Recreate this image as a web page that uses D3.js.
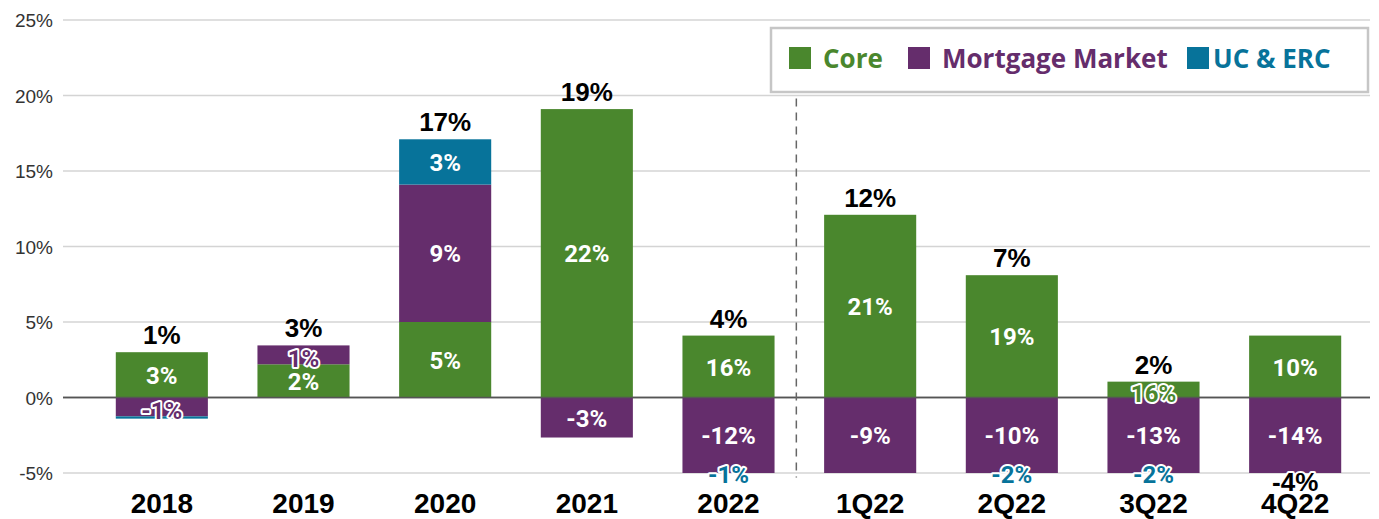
<!DOCTYPE html>
<html>
<head>
  <meta charset="utf-8">
  <title>Contribution by segment</title>
  <script src="https://d3js.org/d3.v7.min.js"></script>
  <style>
    html, body { margin: 0; padding: 0; background: #fff; }
    svg { display: block; }
    .ytick { font: 19px "Liberation Sans", Arial, sans-serif; fill: #333; }
    .xlab { font: bold 28px "Liberation Sans", Arial, sans-serif; fill: #000; }
    .total { font: bold 26px "Liberation Sans", Arial, sans-serif; fill: #000; }
    .inlab { font: bold 24px Roboto, sans-serif; fill: #fff; }
    .legtxt { font: bold 26px "Open Sans", sans-serif; }
  </style>
</head>
<body>
  <svg width="1379" height="519"></svg>
  <script>
    // categories + drawn bar segments (% as plotted)
    const categories = ["2018", "2019", "2020", "2021", "2022", "1Q22", "2Q22", "3Q22", "4Q22"];
    const coreVals = [3.0, 2.2, 5.0, 19.1, 4.1, 12.1, 8.1, 1.05, 4.1];
    const mortVals = [-1.25, 1.25, 9.1, -2.65, -12, -9, -10, -13, -14];
    const ucVals = [-0.15, 0, 3.0, 0, -1, 0, -2, -2, 0];

    // printed labels
    const coreLabels = ["3%", "2%", "5%", "22%", "16%", "21%", "19%", "16%", "10%"];
    const mortLabels = ["-1%", "1%", "9%", "-3%", "-12%", "-9%", "-10%", "-13%", "-14%"];
    const ucLabels = ["", "", "3%", "", "-1%", "", "-2%", "-2%", ""];
    const totalLabels = ["1%", "3%", "17%", "19%", "4%", "12%", "7%", "2%", "-4%"];

    const yTicks = [-5, 0, 5, 10, 15, 20, 25];
    const seriesNames = ["Core", "Mortgage Market", "UC & ERC"];
    const colors = ["#4a872d", "#652d6c", "#07739a"];

    const svg = d3.select("svg");
    const y = d3.scaleLinear().domain([-5, 25]).range([473, 20]);
    const x = d3.scaleBand().domain(categories).range([91, 1366]).paddingInner(0.35).paddingOuter(0.175);

    // grid
    svg.append("g").selectAll("line").data(yTicks).join("line")
      .attr("x1", 63).attr("x2", 1370)
      .attr("y1", d => y(d)).attr("y2", d => y(d))
      .attr("stroke", d => d === 0 ? "#555" : "#d4d4d4")
      .attr("stroke-width", 1.5);

    svg.append("g").selectAll("text").data(yTicks).join("text")
      .attr("class", "ytick")
      .attr("x", 53).attr("y", d => y(d) + 7)
      .attr("text-anchor", "end")
      .text(d => d + "%");

    // stacking: positives up from 0, negatives down from 0
    const rows = categories.map((c, i) => {
      let pos = 0, neg = 0;
      const vals = [coreVals[i], mortVals[i], ucVals[i]];
      const labs = [coreLabels[i], mortLabels[i], ucLabels[i]];
      const segs = vals.map((v, k) => {
        let y0, y1;
        if (v >= 0) { y0 = pos; y1 = pos + v; pos = y1; }
        else { y0 = neg; y1 = neg + v; neg = y1; }
        return { cat: c, k, v, y0, y1, label: labs[k] };
      });
      return { cat: c, segs, top: pos, bottom: neg, total: totalLabels[i] };
    });

    svg.append("defs").append("clipPath").attr("id", "plotclip")
      .append("rect").attr("x", 0).attr("y", 0).attr("width", 1379).attr("height", y(-5));

    const barG = svg.append("g").attr("clip-path", "url(#plotclip)");
    barG.selectAll("rect").data(rows.flatMap(r => r.segs).filter(s => s.v !== 0)).join("rect")
      .attr("x", d => x(d.cat))
      .attr("width", x.bandwidth())
      .attr("y", d => y(Math.max(d.y0, d.y1)))
      .attr("height", d => Math.abs(y(d.y0) - y(d.y1)))
      .attr("fill", d => colors[d.k]);

    // zero line on top of bars
    svg.append("line").attr("x1", 63).attr("x2", 1370)
      .attr("y1", y(0)).attr("y2", y(0))
      .attr("stroke", "#555").attr("stroke-width", 1.5);

    // divider between years and quarters
    const divX = (x("2022") + x.bandwidth() + x("1Q22")) / 2 - 3;
    svg.append("line").attr("x1", divX).attr("x2", divX)
      .attr("y1", y(19.8)).attr("y2", y(-5.3))
      .attr("stroke", "#666").attr("stroke-width", 1.5)
      .attr("stroke-dasharray", "8,6");

    // segment labels
    const labG = svg.append("g");
    rows.forEach(r => {
      const cx = x(r.cat) + x.bandwidth() / 2;
      r.segs.forEach(s => {
        if (!s.label) return;
        const lo = Math.max(Math.min(s.y0, s.y1), -5);
        const hi = Math.max(s.y0, s.y1);
        const clipped = Math.min(s.y0, s.y1) < -5 && hi <= -5;
        const small = Math.abs(hi - lo) < 1.6;
        let cy = y((lo + hi) / 2);
        if (clipped) cy = y(-5) + 1;
        else if (small) cy = cy + 3;
        const t = labG.append("text")
          .attr("class", "inlab")
          .attr("x", cx).attr("y", cy + 9)
          .attr("text-anchor", "middle")
          .text(s.label);
        if (small || clipped) {
          t.style("fill", colors[s.k])
            .attr("stroke", "#fff").attr("stroke-width", 4)
            .attr("paint-order", "stroke").attr("stroke-linejoin", "round");
        }
      });
      const neg = r.total.startsWith("-");
      const tt = labG.append("text")
        .attr("class", "total")
        .attr("x", cx)
        .attr("y", neg ? y(-5.6) + 9 : y(r.top) - 8)
        .attr("text-anchor", "middle")
        .text(r.total);
      if (neg) {
        tt.attr("stroke", "#fff").attr("stroke-width", 4)
          .attr("paint-order", "stroke").attr("stroke-linejoin", "round");
      }
    });

    // x labels
    svg.append("g").selectAll("text").data(categories).join("text")
      .attr("class", "xlab")
      .attr("x", d => x(d) + x.bandwidth() / 2)
      .attr("y", 513)
      .attr("text-anchor", "middle")
      .text(d => d);

    // legend
    const leg = svg.append("g");
    leg.append("rect").attr("x", 771).attr("y", 28).attr("width", 597).attr("height", 64)
      .attr("fill", "#fff").attr("stroke", "#c6c6c6").attr("stroke-width", 2.5);
    const legX = [789, 908, 1187];
    const legTxtGap = [12, 12, 4];
    seriesNames.forEach((n, i) => {
      leg.append("rect").attr("x", legX[i]).attr("y", 47).attr("width", 22).attr("height", 22)
        .attr("fill", colors[i]);
      leg.append("text").attr("class", "legtxt")
        .attr("x", legX[i] + 22 + legTxtGap[i]).attr("y", 68)
        .attr("fill", colors[i])
        .text(n);
    });
  </script>
</body>
</html>
